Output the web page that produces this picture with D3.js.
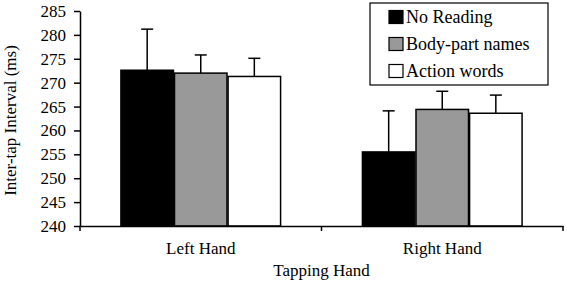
<!DOCTYPE html>
<html>
<head>
<meta charset="utf-8">
<script src="https://cdnjs.cloudflare.com/ajax/libs/d3/7.8.5/d3.min.js"></script>
<style>
  body { margin: 0; background: #fff; }
  text { font-family: "Liberation Serif", "Times New Roman", serif; }
</style>
</head>
<body>
<div id="chart"></div>
<script>
var groups = ['Left Hand', 'Right Hand'];
var series = ['No Reading', 'Body-part names', 'Action words'];
var means = [
    [272.6, 272.0, 271.3],
    [255.5, 264.4, 263.6]
];
var errTops = [
    [281.2, 275.8, 275.1],
    [264.1, 268.2, 267.4]
];
var yTicks = [240, 245, 250, 255, 260, 265, 270, 275, 280, 285];
var fills = ['#000000', '#999999', '#ffffff'];

var W = 567, H = 284;
var margin = {top: 11, left: 80, right: 4, bottom: 58};
var svg = d3.select('#chart').append('svg')
    .attr('width', W)
    .attr('height', H);
var g = svg.append('g')
    .attr('transform', 'translate(' + margin.left + ',' + margin.top + ')');
var w = W - margin.left - margin.right;
var h = H - margin.top - margin.bottom;

var x0 = d3.scaleBand().domain(groups).range([0, w]).paddingInner(0).paddingOuter(0);
var x1 = d3.scaleBand().domain(series).range([x0.bandwidth() * 0.165, x0.bandwidth() * 0.835]).padding(0.02);
var y = d3.scaleLinear().domain([240, 285]).range([h, 0]);

//y axis
var yAxis = g.append('g')
    .call(d3.axisLeft(y).tickValues(yTicks).tickSize(6).tickSizeOuter(0));
yAxis.select('.domain').attr('stroke', '#000').attr('stroke-width', 1.5);
yAxis.selectAll('.tick line').attr('stroke-width', 1.5);
yAxis.selectAll('text').attr('font-size', '17px').attr('fill', '#000').attr('x', -14);

//bars
var gg = g.selectAll('.grp')
    .data(groups)
    .enter()
    .append('g')
    .attr('class', 'grp')
    .attr('transform', function (d) { return 'translate(' + x0(d) + ',0)'; });
gg.each(function (d, gi) {
    var sel = d3.select(this);
    series.forEach(function (s, si) {
        var bx = x1(s), bw = x1.bandwidth();
        var cx = bx + bw / 2;
        // error bar
        sel.append('line')
            .attr('x1', cx).attr('x2', cx)
            .attr('y1', y(means[gi][si])).attr('y2', y(errTops[gi][si]))
            .attr('stroke', '#000').attr('stroke-width', 1.5);
        sel.append('line')
            .attr('x1', cx - 6).attr('x2', cx + 6)
            .attr('y1', y(errTops[gi][si])).attr('y2', y(errTops[gi][si]))
            .attr('stroke', '#000').attr('stroke-width', 1.5);
        sel.append('rect')
            .attr('x', bx)
            .attr('y', y(means[gi][si]))
            .attr('width', bw)
            .attr('height', h - y(means[gi][si]))
            .attr('fill', fills[si])
            .attr('stroke', '#000')
            .attr('stroke-width', 1.5);
    });
});

//x axis
var xAxis = g.append('g')
    .attr('transform', 'translate(0,' + h + ')')
    .call(d3.axisBottom(x0).tickSize(0).tickSizeOuter(0));
xAxis.select('.domain').attr('stroke', '#000').attr('stroke-width', 1.5);
xAxis.selectAll('text').attr('font-size', '17px').attr('fill', '#000').attr('dy', '1.45em');
[0, x0.bandwidth(), w].forEach(function (t) {
    g.append('line')
        .attr('x1', t).attr('x2', t)
        .attr('y1', h).attr('y2', h + 5)
        .attr('stroke', '#000').attr('stroke-width', 1.5);
});

//axis titles
svg.append('text')
    .attr('x', margin.left + w / 2)
    .attr('y', 276)
    .attr('text-anchor', 'middle')
    .attr('font-size', '17px')
    .text('Tapping Hand');
svg.append('text')
    .attr('transform', 'translate(16,' + (margin.top + h / 2 + 2) + ') rotate(-90)')
    .attr('text-anchor', 'middle')
    .attr('font-size', '17px')
    .text('Inter-tap Interval (ms)');

//legend
var lg = svg.append('g').attr('transform', 'translate(370,3)');
lg.append('rect')
    .attr('width', 178).attr('height', 82)
    .attr('fill', '#fff').attr('stroke', '#000').attr('stroke-width', 1.2);
var item = lg.selectAll('.item')
    .data(series)
    .enter()
    .append('g')
    .attr('class', 'item')
    .attr('transform', function (d, i) { return 'translate(19,' + (14 + i * 27) + ')'; });
item.append('rect')
    .attr('x', 0).attr('y', -6.5)
    .attr('width', 14).attr('height', 13)
    .attr('fill', function (d, i) { return fills[i]; })
    .attr('stroke', '#000').attr('stroke-width', 1.2);
item.append('text')
    .attr('x', 17)
    .attr('dy', '0.35em')
    .attr('font-size', '18px')
    .text(function (d) { return d; });
</script>
</body>
</html>
